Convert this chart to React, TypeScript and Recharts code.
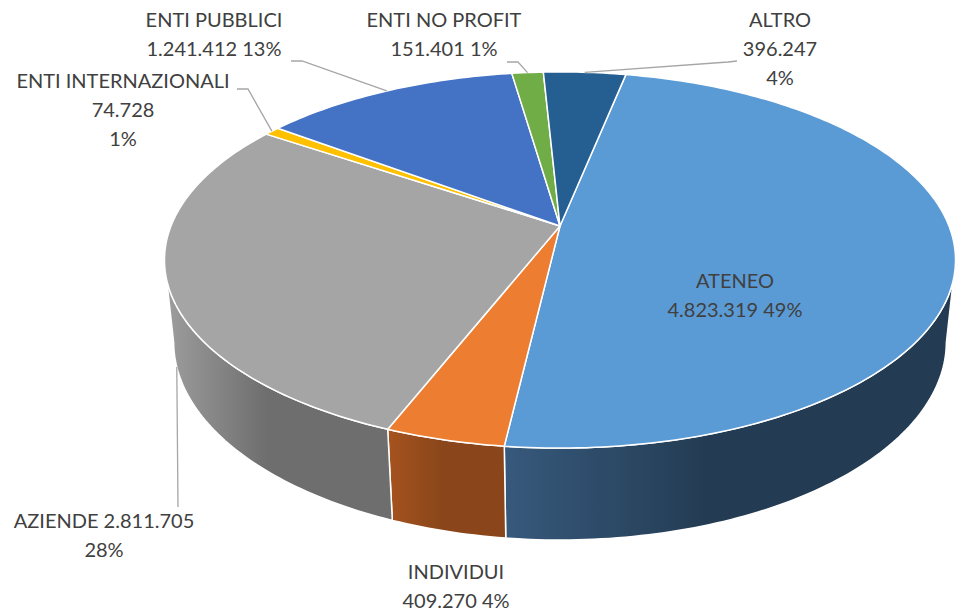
import { PieChart, Pie } from 'recharts';

// funding sources, clockwise from the first slice
const categories = ['ATENEO', 'INDIVIDUI', 'AZIENDE', 'ENTI INTERNAZIONALI', 'ENTI PUBBLICI', 'ENTI NO PROFIT', 'ALTRO'];
const amounts = [4823319, 409270, 2811705, 74728, 1241412, 151401, 396247];
// percentages as printed on the chart
const pctLabels = ['49%', '4%', '28%', '1%', '13%', '1%', '4%'];

const topColors = ['#5B9BD5', '#ED7D31', '#A5A5A5', '#FFC000', '#4472C4', '#70AD47', '#255E91'];
const sideLight = ['#37597C', '#A6531F', '#9E9E9E', '#B08500', '#2F5190', '#4E7A31', '#1A4266'];
const sideDark = ['#233C53', '#8A461A', '#6E6E6E', '#8A6800', '#223C6B', '#3A5C24', '#132F4A'];

// where Excel broke the label text: 0 = name, 1 = value, 2 = percent
const labelBreaks = [[1], [1], [2], [1, 2], [1], [1], [1, 2]];

const labelLayout = [
    { x: 735, y: 288 },
    { x: 456, y: 579 },
    { x: 104, y: 528, leader: [[178, 507]], bottom: true },
    { x: 123, y: 88, leader: [[237, 89], [248, 89]] },
    { x: 214, y: 27, leader: [[291, 61], [302, 61]] },
    { x: 444, y: 27, leader: [[507, 62], [518, 62]] },
    { x: 780, y: 27, leader: [[737, 61], [728, 62]] },
];

const chartData = categories.map((name, i) => ({ name, value: amounts[i] }));

// simple perspective camera for the "3D" look
const DIST = 4.887;
const TILT = (27.88 * Math.PI) / 180;
const THICK = 0.24;
const SIL = (Math.acos(-Math.cos(TILT) / DIST) * 180) / Math.PI; // silhouette angle

const fmt = (n: number) => String(n).replace(/\B(?=(\d{3})+(?!\d))/g, '.');

function project(cx: number, cy: number, r: number, theta: number, rad: number, z: number) {
    const t = (theta * Math.PI) / 180;
    const X = rad * Math.sin(t);
    const Y = rad * Math.cos(t);
    const depth = DIST + Y * Math.cos(TILT) - z * Math.sin(TILT);
    const up = Y * Math.sin(TILT) + z * Math.cos(TILT);
    return [cx + (r * DIST * X) / depth, cy - (r * DIST * up) / depth];
}

function arcPoints(cx: number, cy: number, r: number, a: number, b: number, z: number) {
    const pts: number[][] = [];
    const n = Math.max(2, Math.ceil(Math.abs(b - a)));
    for (let k = 0; k <= n; k++) pts.push(project(cx, cy, r, a + ((b - a) * k) / n, 1, z));
    return pts;
}

const toPath = (pts: number[][]) => 'M' + pts.map((p) => p[0].toFixed(2) + ',' + p[1].toFixed(2)).join('L') + 'Z';

// eslint-disable-next-line @typescript-eslint/no-explicit-any
const TopFace = (props: any) => {
    const { cx, cy, outerRadius, startAngle, endAngle, index } = props;
    const a = 90 - startAngle;
    const b = 90 - endAngle;
    const pts = [[cx, cy], ...arcPoints(cx, cy, outerRadius, a, b, 0)];
    return <path d={toPath(pts)} fill={topColors[index]} stroke="#FFFFFF" strokeWidth={1.5} strokeLinejoin="round" />;
};

// eslint-disable-next-line @typescript-eslint/no-explicit-any
const SideWall = (props: any) => {
    const { cx, cy, outerRadius, startAngle, endAngle, index } = props;
    const a = Math.max(90 - startAngle, SIL);
    const b = Math.min(90 - endAngle, 360 - SIL);
    if (b <= a) return <g />;
    const topEdge = arcPoints(cx, cy, outerRadius, a, b, 0);
    const bottomEdge = arcPoints(cx, cy, outerRadius, b, a, -THICK);
    return (
        <path
            d={toPath([...topEdge, ...bottomEdge])}
            fill={`url(#wall-${index})`}
            stroke="#FFFFFF"
            strokeWidth={1.5}
            strokeLinejoin="round"
        />
    );
};

// eslint-disable-next-line @typescript-eslint/no-explicit-any
const renderLabel = (props: any) => {
    const { cx, cy, outerRadius, midAngle, index } = props;
    const lay = labelLayout[index];
    const tokens = [categories[index], fmt(amounts[index]), pctLabels[index]];
    const lines: string[] = [];
    let cur: string[] = [];
    tokens.forEach((tk, k) => {
        if (labelBreaks[index].includes(k) && cur.length) {
            lines.push(cur.join(' '));
            cur = [];
        }
        cur.push(tk);
    });
    lines.push(cur.join(' '));

    let leader = null;
    if (lay.leader) {
        const end = project(cx, cy, outerRadius, 90 - midAngle, 1, lay.bottom ? -THICK : 0);
        const pts = [...lay.leader, end];
        leader = (
            <polyline
                points={pts.map((p) => p.join(',')).join(' ')}
                fill="none"
                stroke="#A6A6A6"
                strokeWidth={1.3}
            />
        );
    }
    return (
        <g>
            {leader}
            <text x={lay.x} y={lay.y} textAnchor="middle" fill="#404040" fontSize={20} fontFamily="Lato, 'Open Sans', sans-serif">
                {lines.map((l, k) => (
                    <tspan key={k} x={lay.x} dy={k ? 29 : 0}>
                        {l}
                    </tspan>
                ))}
            </text>
        </g>
    );
};

export default function App() {
    return (
        <div style={{ width: 955, height: 612, background: '#FFFFFF' }}>
            <style>{`body{margin:0;}`}</style>
            <PieChart width={955} height={612} margin={{ top: 0, right: 0, bottom: 0, left: 0 }}>
                <defs>
                    {sideLight.map((c, i) => (
                        <linearGradient key={i} id={`wall-${i}`} x1="0" y1="0" x2="1" y2="0">
                            <stop offset="0%" stopColor={c} />
                            <stop offset="45%" stopColor={sideDark[i]} />
                            <stop offset="100%" stopColor={sideDark[i]} />
                        </linearGradient>
                    ))}
                </defs>
                <Pie
                    data={chartData}
                    dataKey="value"
                    nameKey="name"
                    cx={560}
                    cy={226}
                    outerRadius={389}
                    startAngle={78.5}
                    endAngle={-281.5}
                    shape={SideWall}
                    activeShape={SideWall}
                    inactiveShape={SideWall}
                    isAnimationActive={false}
                    label={false}
                    labelLine={false}
                />
                <Pie
                    data={chartData}
                    dataKey="value"
                    nameKey="name"
                    cx={560}
                    cy={226}
                    outerRadius={389}
                    startAngle={78.5}
                    endAngle={-281.5}
                    shape={TopFace}
                    activeShape={TopFace}
                    inactiveShape={TopFace}
                    isAnimationActive={false}
                    label={renderLabel}
                    labelLine={false}
                />
            </PieChart>
        </div>
    );
}
